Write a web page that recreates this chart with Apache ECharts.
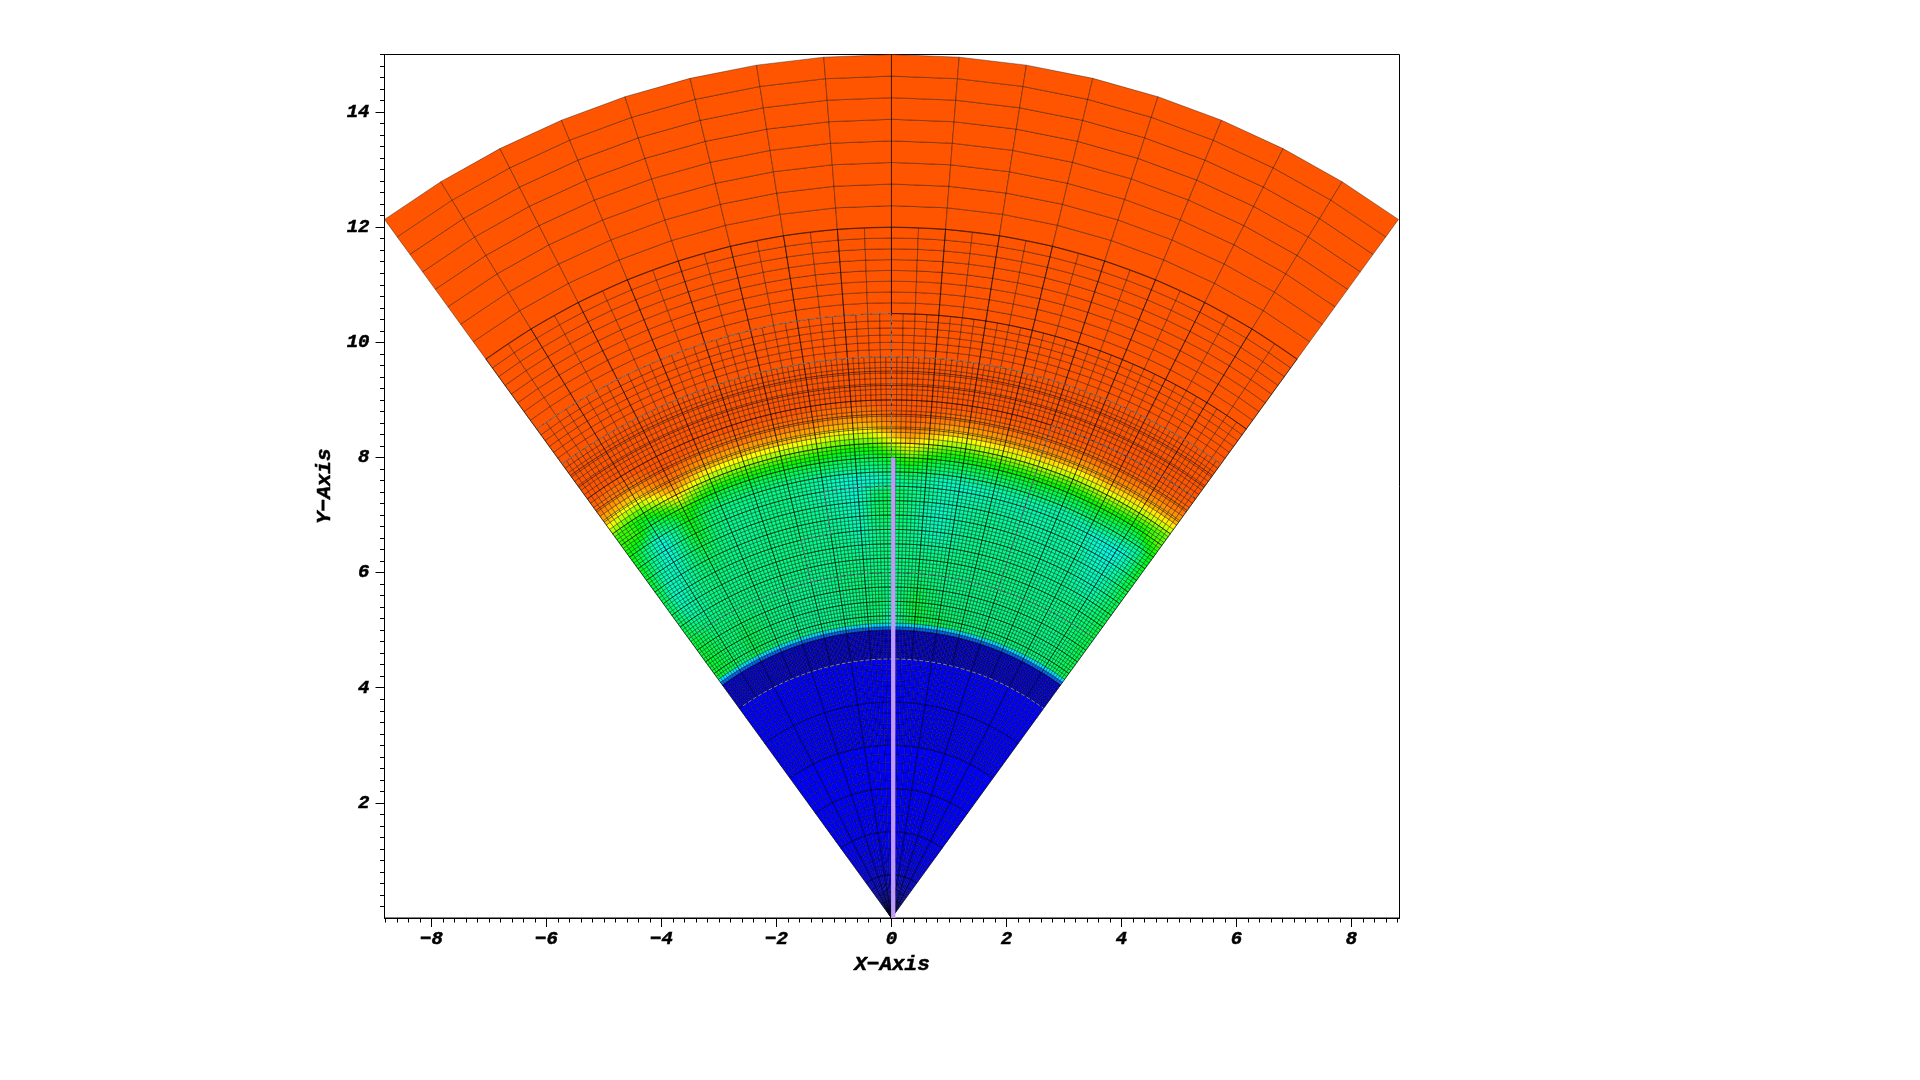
<!DOCTYPE html>
<html>
<head>
<meta charset="utf-8">
<style>html,body{margin:0;padding:0;background:#fff}#c{width:1920px;height:1080px}</style>
<script src="https://cdn.jsdelivr.net/npm/echarts@6/dist/echarts.min.js"></script>
</head>
<body>
<div id="c"></div>
<script>
// ---- axis values
const xTickLabels = [-8,-6,-4,-2,0,2,4,6,8];
const yTickLabels = [2,4,6,8,10,12,14];
const xRange = [-8.817, 8.835];
const yRange = [0, 15];
const minorStep = 0.2;

// ---- mesh bands: [rStart, rEnd, dr, dTheta]
const meshBands = [
  [0,3,0.15,2.25],[3,4.5,0.09375,1.125],[4.5,8.25,0.0625,0.5625],[8.25,9.75,0.09375,0.5625],
  [9.75,10.5,0.125,1.125],[10.5,12,0.1875,2.25],[12,15,0.375,4.5]
];
const wedgeHalfAngle = 36;

// ---- scalar field (0 blue, .25 cyan, .5 green, .75 yellow, 1 red)
const innerBlue = 0.0, shellBlue = -0.1, shellStart = 4.5, shockRadius = 5.0;
const rimValues = [0.1, 0.22];
const fieldAngles = [-36,-33.75,-31.5,-29.25,-27,-24.75,-22.5,-20.25,-18,-15.75,-13.5,-11.25,-9,-6.75,-4.5,-2.25,0,2.25,4.5,6.75,9,11.25,13.5,15.75,18,20.25,22.5,24.75,27,29.25,31.5,33.75,36];
const fieldRadii = [5.12,5.5,5.9,6.3,6.7,7.1,7.4,7.7,8.0];
const row512 = [45,44,41,39,42,40,38,37,37,36,36,37,37,38,38,38,32,38,44,43,42,41,39,38,38,38,38,38,38,38,39,41,43];
const row550 = [46,44,40,39,42,40,38,37,36,36,36,36,36,37,38,40,36,40,45,41,39,38,38,37,37,37,37,37,37,37,38,40,43];
const row590 = [45,41,38,38,38,38,37,37,36,36,36,36,37,38,38,38,37,38,39,38,37,37,37,37,37,37,37,37,37,37,38,40,44];
const row630 = [42,34,35,37,37,37,37,37,37,37,37,36,36,37,36,37,38,37,37,37,37,37,37,37,37,37,36,36,36,37,37,39,43];
const row670 = [42,30,34,37,38,37,37,37,37,37,37,36,36,35,32,36,38,37,34,32,34,36,36,36,36,36,35,35,35,33,32,37,43];
const row710 = [46,32,31,37,41,38,36,36,37,37,37,36,35,33,31,40,42,38,33,30,33,35,36,35,35,34,34,34,34,31,30,36,46];
const row740 = [48,35,28,36,46,39,36,36,36,37,36,35,33,31,29,38,42,38,36,33,32,33,34,33,33,33,34,34,32,29,27,34,48];
const row770 = [50,38,27,36,49,40,37,37,37,37,37,36,33,30,28,26,29,32,33,30,29,30,32,33,33,33,33,33,30,27,26,34,50];
const row800 = [55,55,42,42,55,45,42,42,42,42,40,38,36,34,32,33,42,44,38,34,33,34,36,38,40,38,40,40,44,40,42,55,60];
const fieldRows = [row512,row550,row590,row630,row670,row710,row740,row770,row800];
// radius of the yellow front at each of fieldAngles
const frontRadius = [8.38,8.48,8.5,8.36,8.2,8.3,8.38,8.39,8.39,8.39,8.40,8.40,8.42,8.46,8.48,8.46,8.32,8.2,8.31,8.4,8.41,8.38,8.36,8.35,8.34,8.35,8.38,8.36,8.32,8.34,8.36,8.36,8.36];
// radial colour profile across the front, offset from frontRadius
const frontOffsets = [-1.2,-0.8,-0.6,-0.42,-0.26,-0.1,0,0.1,0.28,0.55,9];
const frontValues  = [0.2,0.3,0.38,0.44,0.54,0.67,0.75,0.82,0.88,0.917,0.917];

// ---- colour scale
const scaleStops = [-0.12,0,0.25,0.5,0.75,1];
const scaleColors = [[0,0,205],[0,0,250],[0,255,255],[0,255,0],[255,255,0],[255,0,0]];

// ---- overlays
const heavyArcRadii = [0.75,1.5,2.25,3,3.75,4.5];
const heavyFineStep = 0.25;
const grayArcs = [[10.5,-36,0],[9.75,-36,36],[9,18,36],[6,-36,36],[7.5,-9,0],[6.75,-13.5,-9]];
const grayRadials = [[0,8,10.5],[-9,6.75,7.5],[-13.5,6,6.75],[18,6,9]];
const lightArcs = [[4.5,-35,36]];
const probeX = [0.03,0.03];
const probeY = [0,8];

// ---- sampling helpers
function lookup(xs, ys, x){
  if (x <= xs[0]) return ys[0];
  for (let i=1;i<xs.length;i++){ if (x <= xs[i]) { const f=(x-xs[i-1])/(xs[i]-xs[i-1]); return ys[i-1]+f*(ys[i]-ys[i-1]); } }
  return ys[ys.length-1];
}
function fieldAt(th, r){
  if (r < shellStart) return innerBlue;
  if (r < shockRadius) return shellBlue;
  if (r < fieldRadii[0]) return rimValues[Math.min(1, Math.floor((r-shockRadius)/0.0625))];
  const column = fieldRows.map(row => lookup(fieldAngles, row, th)/100);
  const body = lookup(fieldRadii, column, r);
  const front = lookup(frontOffsets, frontValues, r - lookup(fieldAngles, frontRadius, th));
  return Math.max(r > 8.2 ? 0 : body, front);
}
function colorOf(v){
  let i=1; while(i<scaleStops.length-1 && v>scaleStops[i]) i++;
  const f=Math.max(0,Math.min(1,(v-scaleStops[i-1])/(scaleStops[i]-scaleStops[i-1])));
  const a=scaleColors[i-1], b=scaleColors[i];
  return 'rgb('+[0,1,2].map(k=>Math.round(a[k]+f*(b[k]-a[k]))).join(',')+')';
}
const toXY = (r,th)=>[r*Math.sin(th*Math.PI/180), r*Math.cos(th*Math.PI/180)];

// ---- cell list
const cells = [];
meshBands.forEach(b=>{
  const nr=Math.round((b[1]-b[0])/b[2]), nt=Math.round(2*wedgeHalfAngle/b[3]);
  for(let i=0;i<nr;i++){ for(let j=0;j<nt;j++){
    const r0=b[0]+i*b[2], r1=r0+b[2], t0=-wedgeHalfAngle+j*b[3], t1=t0+b[3];
    cells.push([r0,r1,t0,t1,fieldAt((t0+t1)/2,(r0+r1)/2)]);
  }}
});

// ---- polyline list: [kind, r0, r1, t0, t1] (kind 0 heavy, 1 gray, 2 light)
const lines = [];
const addArc=(k,r,t0,t1)=>lines.push([k,r,r,t0,t1]);
const addRad=(k,t,r0,r1)=>lines.push([k,r0,r1,t,t]);
heavyArcRadii.forEach(r=>addArc(0,r,-36,36));
for(let r=shockRadius;r<9.75;r+=heavyFineStep) addArc(0,r,-36,36);
addArc(0,12,-36,36); addArc(0,10.5,0,36);
for(let t=-36;t<=36;t+=4.5) addRad(0,t,shellStart,12);
for(let t=-36;t<=36;t+=9) addRad(0,t,0,shellStart);
addRad(0,0,10.5,15);
grayArcs.forEach(a=>addArc(1,a[0],a[1],a[2]));
grayRadials.forEach(a=>addRad(1,a[0],a[1],a[2]));
lightArcs.forEach(a=>addArc(2,a[0],a[1],a[2]));

const lineStyles = [
  {stroke:'rgba(0,0,0,0.6)',lineWidth:0.9,fill:null},
  {stroke:'rgba(125,135,140,0.85)',lineWidth:1,lineDash:[7,2],fill:null},
  {stroke:'rgba(175,175,170,0.85)',lineWidth:0.9,lineDash:[4,2],fill:null}
];

const minorValues = (lo,hi)=>{const o=[];for(let v=Math.ceil(lo/minorStep);v*minorStep<=hi;v++){o.push(+(v*minorStep).toFixed(1));}return o;};
const labelFont = {fontFamily:'"Liberation Mono"',fontWeight:'bold',fontStyle:'italic',fontSize:19,color:'#000',textBorderColor:'#000',textBorderWidth:0.5};
const nameFont = {...labelFont,fontSize:21};
const fmt = v => String(v).replace('-','\u2212');

const chart = echarts.init(document.getElementById('c'),null,{renderer:'canvas'});
chart.setOption({
  animation:false,
  backgroundColor:'#fff',
  grid:{left:384.5,top:54.5,width:1015,height:863.5,show:true,borderColor:'#000',borderWidth:1,backgroundColor:'transparent'},
  xAxis:[
    {type:'value',min:xRange[0],max:xRange[1],position:'bottom',splitLine:{show:false},
     axisLine:{show:true,onZero:false,lineStyle:{color:'#000',width:1}},
     axisTick:{show:true,length:9,customValues:xTickLabels,lineStyle:{color:'#000',width:1}},
     axisLabel:{...labelFont,margin:12,customValues:xTickLabels,formatter:fmt,showMinLabel:true,showMaxLabel:true},
     name:'X\u2212Axis',nameLocation:'middle',nameGap:32,nameTextStyle:{...nameFont}},
    {type:'value',min:xRange[0],max:xRange[1],position:'bottom',splitLine:{show:false},
     axisLine:{show:false,onZero:false},
     axisTick:{show:true,length:4.5,customValues:minorValues(xRange[0],xRange[1]),lineStyle:{color:'#000',width:1}},
     axisLabel:{show:false}}
  ],
  yAxis:[
    {type:'value',min:yRange[0],max:yRange[1],position:'left',splitLine:{show:false},
     axisLine:{show:true,onZero:false,lineStyle:{color:'#000',width:1}},
     axisTick:{show:true,length:9,customValues:yTickLabels,lineStyle:{color:'#000',width:1}},
     axisLabel:{...labelFont,margin:15,padding:[2,0,0,0],customValues:yTickLabels,formatter:fmt},
     name:'Y\u2212Axis',nameLocation:'middle',nameGap:42,nameRotate:90,nameTextStyle:{...nameFont}},
    {type:'value',min:yRange[0],max:yRange[1],position:'left',splitLine:{show:false},
     axisLine:{show:false,onZero:false},
     axisTick:{show:true,length:4.5,customValues:minorValues(0.2,yRange[1]),lineStyle:{color:'#000',width:1}},
     axisLabel:{show:false}}
  ],
  series:[
    {type:'custom',name:'cells',silent:true,coordinateSystem:'cartesian2d',progressive:0,clip:false,
     data:cells,
     renderItem:(p,api)=>{
       const r0=api.value(0),r1=api.value(1),t0=api.value(2),t1=api.value(3),v=api.value(4);
       const pts=[toXY(r0,t0),toXY(r1,t0),toXY(r1,t1),toXY(r0,t1)].map(q=>api.coord(q));
       return {type:'polygon',shape:{points:pts},style:{fill:colorOf(v),stroke:'rgba(0,0,0,0.5)',lineWidth:0.72}};
     }},
    {type:'custom',name:'structure',silent:true,coordinateSystem:'cartesian2d',progressive:0,clip:false,
     data:lines,
     renderItem:(p,api)=>{
       const k=api.value(0),r0=api.value(1),r1=api.value(2),t0=api.value(3),t1=api.value(4);
       const n=Math.max(1,Math.round(Math.abs(t1-t0)/0.5625));
       const pts=[];
       for(let i=0;i<=n;i++){pts.push(api.coord(toXY(r0+(r1-r0)*i/n,t0+(t1-t0)*i/n)));}
       return {type:'polyline',shape:{points:pts},style:lineStyles[k]};
     }},
    {type:'line',name:'probe',silent:true,symbol:'none',clip:false,
     data:probeX.map((x,i)=>[x,probeY[i]]),
     lineStyle:{color:'#bf9bf7',width:4.3,cap:'butt'},z:5}
  ]
});
</script>
</body>
</html>
